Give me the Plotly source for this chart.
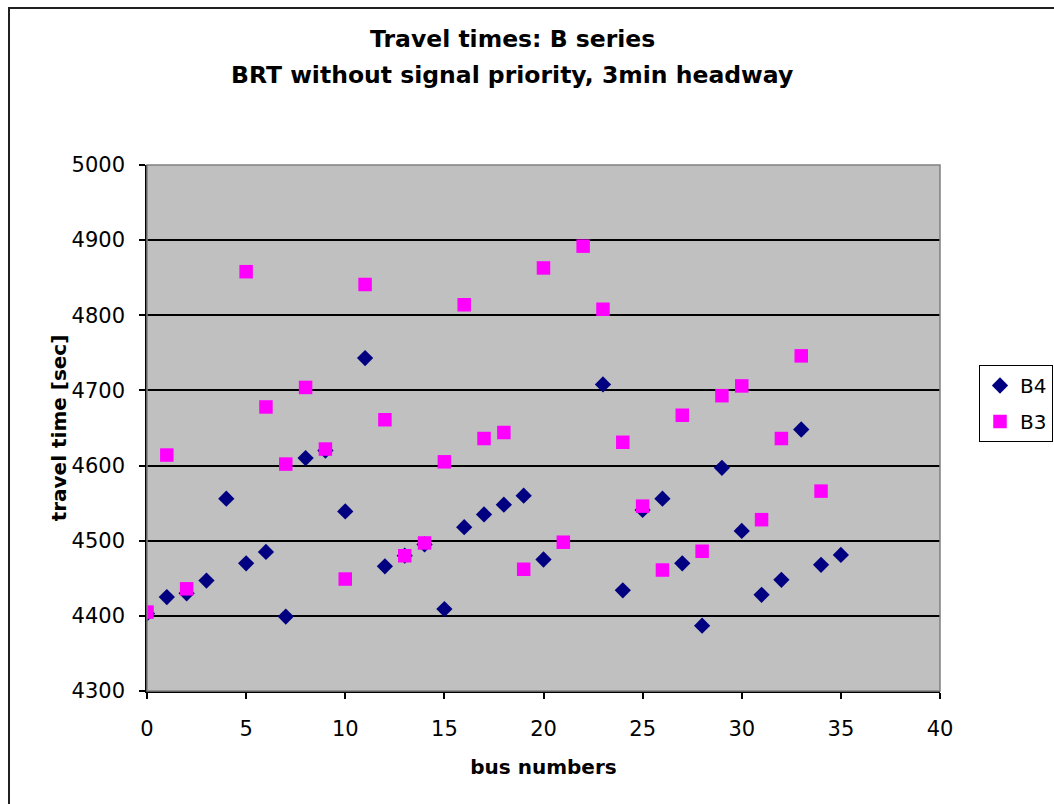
import plotly.graph_objects as go

# Bus numbers and travel times (seconds) for the two runs
bus_b4 = [0, 1, 2, 3, 4, 5, 6, 7, 8, 9, 10, 11, 12, 13, 14, 15, 16, 17, 18, 19, 20,
          23, 24, 25, 26, 27, 28, 29, 30, 31, 32, 33, 34, 35]
time_b4 = [4403, 4425, 4430, 4447, 4556, 4470, 4485, 4399, 4610, 4620, 4539, 4743, 4466,
           4480, 4495, 4409, 4518, 4535, 4548, 4560, 4475,
           4708, 4434, 4541, 4556, 4470, 4387, 4597, 4513, 4428, 4448, 4648, 4468, 4481]

bus_b3 = [0, 1, 2, 5, 6, 7, 8, 9, 10, 11, 12, 13, 14, 15, 16, 17, 18, 19, 20,
          21, 22, 23, 24, 25, 26, 27, 28, 29, 30, 31, 32, 33, 34]
time_b3 = [4405, 4614, 4436, 4858, 4678, 4602, 4704, 4622, 4449, 4841, 4661,
           4480, 4497, 4605, 4814, 4636, 4644, 4462, 4863,
           4498, 4892, 4808, 4631, 4546, 4461, 4667, 4486, 4693, 4706, 4528, 4636, 4746, 4566]

title_lines = ["Travel times: B series", "BRT without signal priority, 3min headway"]
x_title = "bus numbers"
y_title = "travel time [sec]"

FONT = "DejaVu Sans, sans-serif"

W, H = 1054, 804
L, R, T, B = 147, 114, 165, 113
pw, ph = W - L - R, H - T - B


def py(p):
    """Paper y coordinate for a pixel row measured from the top."""
    return 1 + (T - p) / ph


def px(p):
    """Paper x coordinate for a pixel column measured from the left."""
    return (p - L) / pw


fig = go.Figure()
fig.add_trace(go.Scatter(
    x=bus_b4, y=time_b4, mode="markers", name="B4", legendgroup="b4",
    marker=dict(symbol="diamond", size=12.5, color="#000080", line=dict(width=0)),
))
fig.add_trace(go.Scatter(
    x=bus_b3, y=time_b3, mode="markers", name="B3", legendgroup="b3",
    marker=dict(symbol="square", size=13.5, color="#FF00FF", line=dict(width=0)),
))

annotations = [
    dict(text="<b>" + line + "</b>", xref="paper", yref="paper",
         x=px(512), y=py(yc), xanchor="center", yanchor="middle", showarrow=False,
         font=dict(family=FONT, size=23.5, color="black"))
    for line, yc in zip(title_lines, [39, 75])
]

fig.update_layout(
    width=W, height=H,
    margin=dict(l=L, r=R, t=T, b=B, autoexpand=False),
    paper_bgcolor="white",
    plot_bgcolor="#C0C0C0",
    font=dict(family=FONT, size=20, color="black"),
    annotations=annotations,
    showlegend=True,
    legend=dict(
        x=px(979), xanchor="left",
        y=py(365), yanchor="top",
        bgcolor="white", bordercolor="black", borderwidth=1,
        font=dict(family=FONT, size=20, color="black"),
        tracegroupgap=7,
    ),
    xaxis=dict(
        range=[0, 40], dtick=5, tick0=0,
        showgrid=False, zeroline=False,
        showline=True, linecolor="black", linewidth=1.5,
        ticks="outside", ticklen=6, tickcolor="black", tickwidth=1.5,
        tickfont=dict(family=FONT, size=21, color="black"),
        ticklabelstandoff=12,
        title=dict(text="<b>" + x_title + "</b>", standoff=20,
                   font=dict(family=FONT, size=20, color="black")),
    ),
    yaxis=dict(
        range=[4300, 5000], dtick=100, tick0=4300,
        showgrid=True, gridcolor="black", gridwidth=1.5,
        zeroline=False,
        showline=True, linecolor="black", linewidth=1.5,
        ticks="outside", ticklen=6, tickcolor="black", tickwidth=1.5,
        tickfont=dict(family=FONT, size=21, color="black"),
        ticklabelstandoff=10,
        title=dict(text="<b>" + y_title + "</b>", standoff=0,
                   font=dict(family=FONT, size=20, color="black")),
    ),
    shapes=[
        # plot-area frame
        dict(type="rect", xref="paper", yref="paper", x0=0, x1=1, y0=0, y1=1,
             line=dict(color="#808080", width=1.5), layer="above"),
        # chart-area frame
        dict(type="rect", xref="paper", yref="paper",
             x0=px(9), x1=px(W + 5), y0=py(H + 5), y1=py(8),
             line=dict(color="#202020", width=2), layer="above"),
    ],
)

fig.write_html("out.html")
